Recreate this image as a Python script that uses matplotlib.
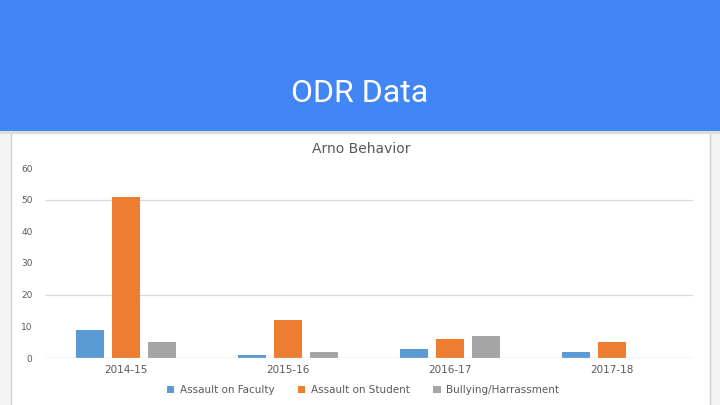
import matplotlib
matplotlib.use("Agg")
import matplotlib.pyplot as plt
from matplotlib.patches import Rectangle
import numpy as np

# chart data
years = ["2014-15", "2015-16", "2016-17", "2017-18"]
series_names = ["Assault on Faculty", "Assault on Student", "Bullying/Harrassment"]
faculty = [9, 1, 3, 2]
student = [51, 12, 6, 5]
bullying = [5, 2, 7, 0]
y_ticks = [0, 10, 20, 30, 40, 50, 60]
grid_visible = [20, 50]

colors = ["#5B9BD5", "#ED7D31", "#A5A5A5"]
text_grey = "#595959"
chart_font = "DejaVu Sans"

fig = plt.figure(figsize=(7.2, 4.05), dpi=100)
fig.patch.set_facecolor("#f4f4f4")

# slide background + header band
bg = fig.add_axes([0, 0, 1, 1])
bg.set_xlim(0, 720)
bg.set_ylim(405, 0)
bg.axis("off")
bg.add_patch(Rectangle((11, 131), 699, 280, facecolor="white", edgecolor="#d0d0d0", lw=1))
bg.add_patch(Rectangle((0, 131), 720, 3, facecolor="#dcdcdc", edgecolor="none"))
bg.add_patch(Rectangle((0, 0), 720, 131, facecolor="#4285F4", edgecolor="none"))
bg.text(360, 93, "ODR Data", color="white", fontsize=23, family="Roboto",
        ha="center", va="center")
bg.text(361, 149, "Arno Behavior", color=text_grey, fontsize=10, family=chart_font,
        ha="center", va="center")

# bar chart
ax = fig.add_axes([45 / 720, 47 / 405, 648 / 720, 190 / 405])
x = np.arange(len(years))
w = 0.175
off = 0.222
for i, vals in enumerate([faculty, student, bullying]):
    ax.bar(x + (i - 1) * off, vals, w, color=colors[i], label=series_names[i], zorder=3)

ax.set_xlim(-0.5, len(years) - 0.5)
ax.set_ylim(0, 60)
ax.set_yticks(y_ticks)
ax.set_yticklabels([str(t) for t in y_ticks], fontsize=6.5, color=text_grey, family=chart_font)
ax.set_xticks(x)
ax.set_xticklabels(years, fontsize=7.5, color=text_grey, family=chart_font)
ax.tick_params(length=0, pad=5)
ax.tick_params(axis="y", pad=9)
for g in grid_visible:
    ax.axhline(g, color="#d9d9d9", lw=0.9, zorder=1)
ax.axhline(0, color="#c8c8c8", lw=1, zorder=4)
for s in ax.spines.values():
    s.set_visible(False)
ax.set_facecolor("none")

leg = fig.legend(loc="center", bbox_to_anchor=(363 / 720, 1 - 390 / 405), ncol=3,
                 frameon=False, handlelength=0.7, handleheight=0.7,
                 columnspacing=2.3, handletextpad=0.5,
                 prop={"family": chart_font, "size": 7.5})
for t in leg.get_texts():
    t.set_color(text_grey)

fig.savefig("out.png", dpi=100, facecolor=fig.get_facecolor())
